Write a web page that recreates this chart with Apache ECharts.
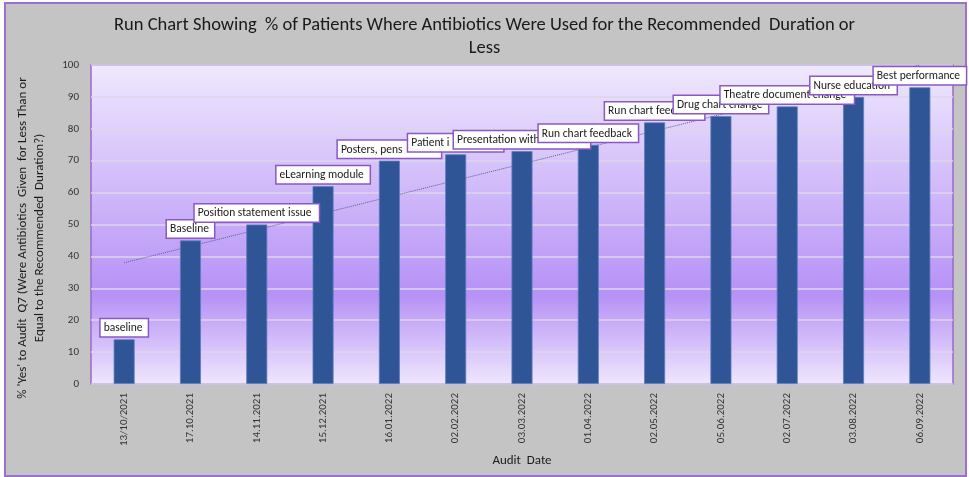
<!DOCTYPE html>
<html><head><meta charset="utf-8">
<script src="https://cdn.jsdelivr.net/npm/echarts@6/dist/echarts.min.js"></script>
<style>html,body{margin:0;padding:0;background:#fff}#c{width:969px;height:477px}</style>
</head><body><div id="c"></div>
<script>
const categories = ['13/10/2021','17.10.2021','14.11.2021','15.12.2021','16.01.2022','02.02.2022','03.03.2022','01.04.2022','02.05.2022','05.06.2022','02.07.2022','03.08.2022','06.09.2022'];
const values = [14, 45, 50, 62, 70, 72, 73, 75, 82, 84, 87, 90, 93];
const annotations = ['baseline','Baseline','Position statement issue','eLearning module','Posters, pens','Patient i','Presentation with','Run chart feedback','Run chart feedback','Drug chart change','Theatre document change','Nurse education','Best performance'];
const yMin = 0, yMax = 100, yStep = 10;

// style: annotation box widths (px)
const boxWidths = [47, 47, 124, 93, 103, 95, 136, 99, 99, 94, 133, 86, 92];

const FONT = 'Carlito, Calibri, Lato, sans-serif';

// linear trendline (least squares) derived from the values
const n = values.length;
const mx = (n + 1) / 2;
const my = values.reduce((a, b) => a + b, 0) / n;
let sxy = 0, sxx = 0;
values.forEach((v, i) => { const x = i + 1; sxy += (x - mx) * (v - my); sxx += (x - mx) * (x - mx); });
const slope = sxy / sxx;
const trend = values.map((v, i) => +(my + slope * (i + 1 - mx)).toFixed(3));

const PAD = 3;
const barData = values.map((v, i) => ({
  value: v,
  label: {
    formatter: annotations[i],
    width: boxWidths[i] - PAD * 2,
    offset: [-boxWidths[i] / 2, 0]
  }
}));

const chart = echarts.init(document.getElementById('c'));
chart.setOption({
  animation: false,
  textStyle: { fontFamily: FONT },
  graphic: [
    { type: 'rect', z: -100, shape: { x: 5, y: 3, width: 961, height: 473 },
      style: { fill: '#c4c4c4', stroke: '#9b70cf', lineWidth: 2 } },
    { type: 'text', z: 10, x: 31, y: 238, rotation: Math.PI / 2,
      style: { text: "% 'Yes' to Audit  Q7 (Were Antibiotics  Given  for Less Than or\nEqual to the Recommended  Duration?)",
        fill: '#1a1a1a', font: '13px ' + FONT, align: 'center', verticalAlign: 'middle', lineHeight: 17 } }
  ],
  title: {
    text: 'Run Chart Showing  % of Patients Where Antibiotics Were Used for the Recommended  Duration or\nLess',
    left: 'center', top: 9,
    textStyle: { fontFamily: FONT, fontSize: 18.5, fontWeight: 'normal', color: '#1a1a1a', lineHeight: 23 }
  },
  grid: {
    left: 91, right: 16, top: 65, bottom: 93,
    show: true, borderColor: '#9a6acb', borderWidth: 1.5,
    backgroundColor: new echarts.graphic.LinearGradient(0, 0, 0, 1, [
      { offset: 0, color: '#efe9fd' },
      { offset: 0.72, color: '#b691f6' },
      { offset: 1, color: '#efe7fd' }
    ])
  },
  xAxis: {
    type: 'category', data: categories,
    axisLine: { show: false }, axisTick: { show: false },
    axisLabel: { rotate: 90, fontSize: 11, margin: 9, color: '#333', fontFamily: FONT },
    name: 'Audit  Date', nameLocation: 'middle', nameGap: 70,
    nameTextStyle: { fontSize: 13, color: '#1a1a1a', fontFamily: FONT, verticalAlign: 'top' }
  },
  yAxis: {
    type: 'value', min: yMin, max: yMax, interval: yStep,
    axisLine: { show: false }, axisTick: { show: false },
    axisLabel: { fontSize: 11, color: '#333', margin: 12, fontFamily: FONT },
    splitLine: { lineStyle: { color: '#ddd6ea', width: 1.5 } }
  },
  series: [
    {
      type: 'line', data: trend, symbol: 'none', z: 1, silent: true,
      lineStyle: { color: '#5a5a9a', width: 1, type: 'dotted' }
    },
    {
      type: 'bar', data: barData, barWidth: 21, z: 2,
      itemStyle: { color: '#2f5597', borderColor: '#5d7ec0', borderWidth: 0.8 },
      label: {
        show: true, position: 'top', distance: 3, align: 'left',
        overflow: 'truncate', ellipsis: '',
        backgroundColor: '#ffffff', borderColor: '#8a58c4', borderWidth: 1.5,
        padding: [3, PAD, 2, PAD], color: '#1a1a1a', fontSize: 11.5, fontFamily: FONT
      }
    }
  ]
});
</script></body></html>
